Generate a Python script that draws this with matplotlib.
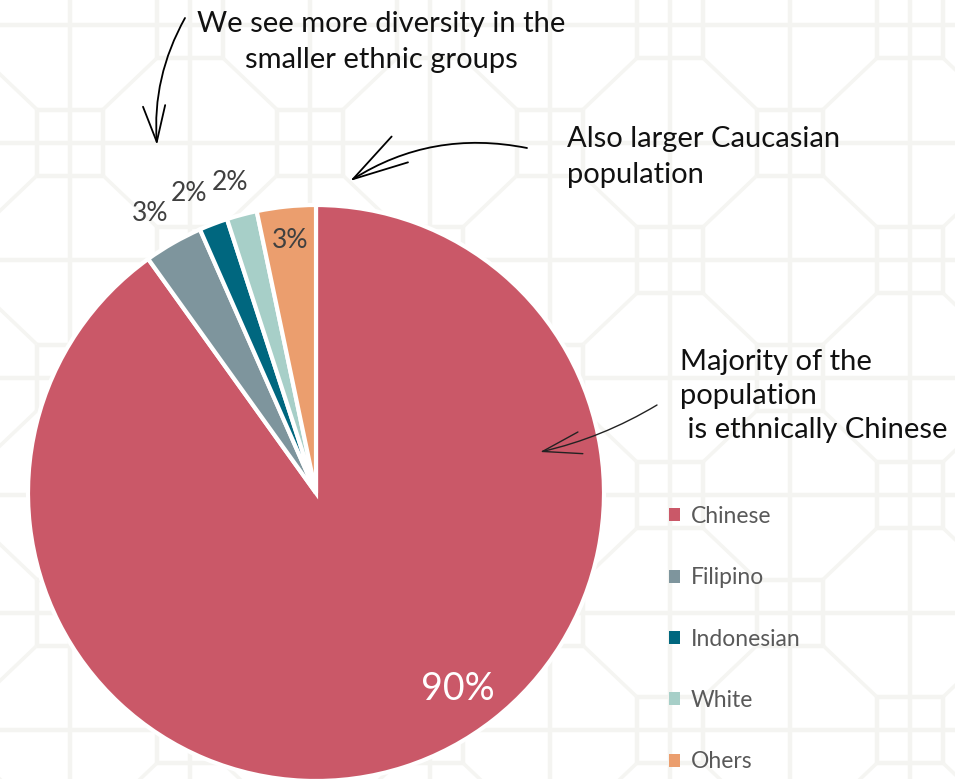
import matplotlib
matplotlib.use('Agg')
import matplotlib.pyplot as plt
import numpy as np
from matplotlib.patches import Patch
from matplotlib.collections import LineCollection

categories = ['Chinese', 'Filipino', 'Indonesian', 'White', 'Ohers']
shares = [90.1, 3.3, 1.6, 1.7, 3.3]
colors = ['#CA5868', '#7E959D', '#00677F', '#A7CFC8', '#EB9E6E']

W, H = 955, 779
FONT = 'Lato'
fig = plt.figure(figsize=(W / 100, H / 100), dpi=100)
ax = fig.add_axes([0, 0, 1, 1])


def Y(py):
    return H - py


# faint lattice background
segs = []
xs = [70 + 120 * i for i in range(-1, 9)]
ys = [25 + 117.5 * j for j in range(-1, 8)]
for x in xs:
    segs.append([(x, 0), (x, H)])
for y in ys:
    segs.append([(0, Y(y)), (W, Y(y))])
d = 33
diag = []
for i, x in enumerate(xs):
    for j, y in enumerate(ys):
        if (i + j) % 2 == 1:
            segs += [[(x - d, Y(y - d)), (x + d, Y(y - d))],
                     [(x - d, Y(y + d)), (x + d, Y(y + d))],
                     [(x - d, Y(y - d)), (x - d, Y(y + d))],
                     [(x + d, Y(y - d)), (x + d, Y(y + d))]]
            diag.append([(x + d, Y(y + d)), (x + 120 - d, Y(y + 117.5 - d))])
            diag.append([(x + d, Y(y - d)), (x + 120 - d, Y(y - 117.5 + d))])
ax.add_collection(LineCollection(segs, colors='#f4f4f1', linewidths=3.2, zorder=0))
ax.add_collection(LineCollection(diag, colors='#f5f5f2', linewidths=2.6, zorder=0))

wedges, _ = ax.pie(shares, colors=colors, startangle=90, counterclock=False,
                   center=(316, Y(493)), radius=288,
                   wedgeprops=dict(edgecolor='white', linewidth=3))

total = sum(shares)
# (angle offset from wedge middle in degrees, radius factor, colour, size)
label_pos = [(18, 0.84, 'white', 27), (1, 1.13, '#404040', 19), (2, 1.13, '#404040', 19),
             (0.5, 1.12, '#404040', 19), (0, 0.88, '#404040', 19)]
for w, v, (off, rf, col, fs) in zip(wedges, shares, label_pos):
    ang = (w.theta1 + w.theta2) / 2 + off
    a = np.deg2rad(ang)
    cx, cy = w.center
    ax.text(cx + rf * w.r * np.cos(a), cy + rf * w.r * np.sin(a), f'{round(v / total * 100)}%',
            ha='center', va='center', fontsize=fs, color=col, family=FONT)

ax.set_xlim(0, W)
ax.set_ylim(0, H)
ax.axis('off')

handles = [Patch(facecolor=c, edgecolor='none') for c in colors]
ax.legend(handles, categories, loc='upper left', bbox_to_anchor=(669, Y(506)),
          bbox_transform=ax.transData, frameon=False, prop=dict(family=FONT, size=16.5),
          handlelength=0.5, handleheight=0.5, handletextpad=0.45, labelspacing=1.76,
          borderpad=0, borderaxespad=0, labelcolor='#595959')

txtc = '#111111'
ax.text(381, Y(42), 'We see more diversity in the\nsmaller ethnic groups', ha='center', va='center',
        fontsize=21, linespacing=1.47, color=txtc, family=FONT)
ax.text(567, Y(157), 'Also larger Caucasian\npopulation', ha='left', va='center',
        fontsize=21, linespacing=1.47, color=txtc, family=FONT)
ax.text(680, Y(396), 'Majority of the\npopulation\n is ethnically Chinese', ha='left', va='center',
        fontsize=21, linespacing=1.40, color=txtc, family=FONT)

ax.annotate('', xy=(157, Y(145)), xytext=(185, Y(18)),
            arrowprops=dict(arrowstyle='->,head_length=1.3,head_width=0.4',
                            connectionstyle='arc3,rad=0.15', lw=1.3, color='black',
                            mutation_scale=20, shrinkA=0, shrinkB=0))
ax.annotate('', xy=(350, Y(181)), xytext=(527, Y(148)),
            arrowprops=dict(arrowstyle='->,head_length=2.0,head_width=0.55',
                            connectionstyle='arc3,rad=0.2', lw=1.3, color='black',
                            mutation_scale=20, shrinkA=0, shrinkB=0))
ax.annotate('', xy=(540, Y(452)), xytext=(657, Y(405)),
            arrowprops=dict(arrowstyle='->,head_length=1.4,head_width=0.4',
                            connectionstyle='arc3,rad=-0.08', lw=1.0, color='#222222',
                            mutation_scale=20, shrinkA=0, shrinkB=0))

fig.savefig('out.png', dpi=100, facecolor='white')
